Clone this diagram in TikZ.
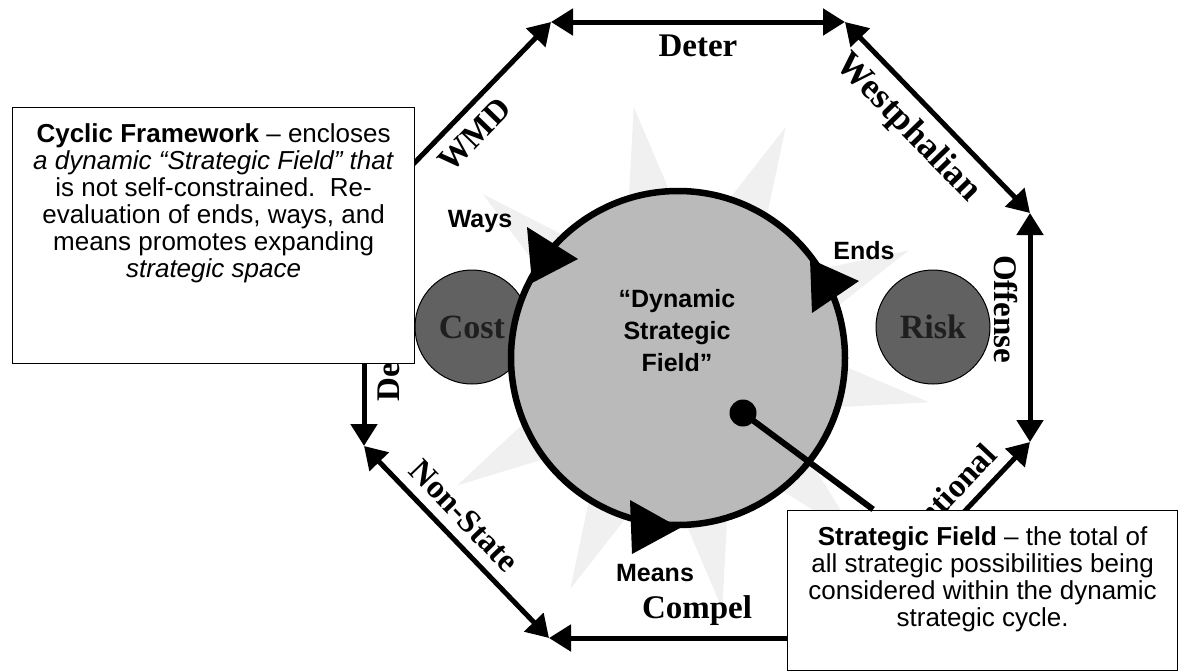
\documentclass[tikz,border=0pt]{standalone}
\usepackage{fontspec}
\setmainfont{Liberation Serif}
\setsansfont{Liberation Sans}
\usetikzlibrary{arrows.meta}

\begin{document}
\begin{tikzpicture}[x=1pt,y=-1pt,>={Triangle[length=22pt,width=26pt]},
    side/.style={<->,line width=5pt},
    sidelabel/.style={sloped,inner sep=10pt,font=\fontsize{33}{33}\selectfont\bfseries},
    ball/.style={circle,draw=black,line width=1pt,fill=black!62,minimum size=114pt,
      text=black!88,font=\fontsize{34}{34}\selectfont\bfseries},
    field/.style={circle,draw,line width=6.5pt,fill=black!27,minimum size=334pt},
    steplabel/.style={font=\sffamily\bfseries\fontsize{25}{25}\selectfont},
    infobox/.style={draw,fill=white,line width=1.2pt,inner sep=0pt,anchor=north west,
      font=\sffamily\fontsize{26}{27}\selectfont},
    ray/.style={fill=black!6}]
    \useasboundingbox (0,0) rectangle (1179,672);

    % corners of the cycle
    \coordinate (tl) at (551,22);
    \coordinate (tr) at (845,22);
    \coordinate (rt) at (1030,213);
    \coordinate (rb) at (1030,442);
    \coordinate (br) at (845,638);
    \coordinate (bl) at (549,638);
    \coordinate (lb) at (364,446);
    \coordinate (lt) at (364,215);
    \coordinate (F) at (678,358);

    % faint rays round the field
    \foreach \a in {-100,-65,-25,10,45,80,115,150,185,220}
      \fill[ray] ([shift={(\a-7:168)}]F) -- ([shift={(\a:255)}]F) -- ([shift={(\a+7:168)}]F) -- cycle;

    \draw[side] (lt) to node[sidelabel,below] {WMD} (tl);
    \draw[side] (tl) to node[sidelabel,below] {Deter} (tr);
    \draw[side] (tr) to node[sidelabel,below,pos=0.45,font=\fontsize{36}{36}\selectfont\bfseries] {Westphalian} (rt);
    \draw[side] (rt) to node[sidelabel,below,pos=0.42] {Offense} (rb);
    \draw[side] (br) to node[sidelabel,above,pos=0.53] {Conventional} (rb);
    \draw[side] (bl) to node[sidelabel,above] {Compel} (br);
    \draw[side] (lb) to node[sidelabel,above,pos=0.45] {Non-State} (bl);
    \draw[side] (lb) to node[sidelabel,below,pos=0.43] {Defense} (lt);

    \node[ball] (cost) at (472,327) {Cost};
    \node[ball] (risk) at (933,327) {Risk};
    \node[field] (field) at (F) {};
    \node[font=\sffamily\bfseries\fontsize{25}{32}\selectfont,align=center] (fieldtext) at (677,331)
      {“Dynamic\\Strategic\\Field”};

    % cycle tips on the field
    \fill (527,227) -- (578,259) -- (532,283) -- cycle;
    \fill (810,259) -- (859,281) -- (812,313) -- cycle;
    \fill (630,500) -- (680,528) -- (632,554) -- cycle;
    \node[steplabel] (ways) at (480,221) {Ways};
    \node[steplabel] (ends) at (864,251) {Ends};
    \node[steplabel] (means) at (655,573) {Means};

    \node[circle,fill=black,minimum size=27pt,inner sep=0pt] (dot) at (743,413) {};

    \node[infobox] (cfbox) at (12,107) {\begin{minipage}[t][256pt][t]{402pt}\centering
      \vspace*{16pt}\textbf{Cyclic Framework} – encloses\\
      \textit{a dynamic “Strategic Field” that}\\
      is not self-constrained.\ \ Re-\\
      evaluation of ends, ways, and\\
      means promotes expanding\\
      \textit{strategic space}\end{minipage}};
    \node[infobox] (sfbox) at (787,510) {\begin{minipage}[t][160pt][t]{390pt}\centering
      \vspace*{16pt}\textbf{Strategic Field} – the total of\\
      all strategic possibilities being\\
      considered within the dynamic\\
      strategic cycle.\end{minipage}};
    \draw[line width=6pt,shorten >=1pt] (dot.center) -- (sfbox);
\end{tikzpicture}
\end{document}
